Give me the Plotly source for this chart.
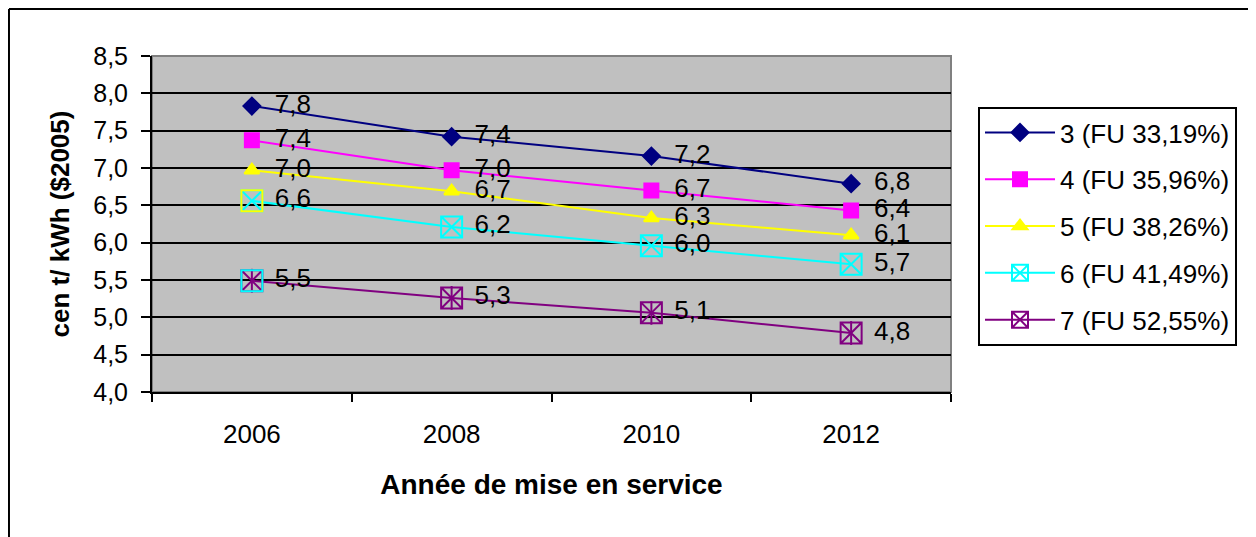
import plotly.graph_objects as go

years = ["2006", "2008", "2010", "2012"]
names = ["3 (FU 33,19%)", "4 (FU 35,96%)", "5 (FU 38,26%)", "6 (FU 41,49%)", "7 (FU 52,55%)"]
s3 = [7.83, 7.42, 7.16, 6.79]
s4 = [7.37, 6.97, 6.70, 6.43]
s5 = [6.97, 6.69, 6.33, 6.10]
s6 = [6.56, 6.21, 5.96, 5.71]
s7 = [5.49, 5.26, 5.06, 4.79]
y_ticks = [4.0, 4.5, 5.0, 5.5, 6.0, 6.5, 7.0, 7.5, 8.0, 8.5]

series = [s3, s4, s5, s6, s7]
colors = ["#000080", "#FF00FF", "#FFFF00", "#00FFFF", "#800080"]
symbols = ["diamond", "square", "triangle-up", "square-x-open", "square-x-open"]
msizes = [13, 14, 13, 21, 21]

FONT = "Liberation Sans, Arial, sans-serif"

fig = go.Figure()

for i, (vals, col, sym, ms, nm) in enumerate(zip(series, colors, symbols, msizes, names)):
    fig.add_trace(go.Scatter(
        x=years, y=vals, name=nm, mode="lines+markers",
        line=dict(color=col, width=2),
        marker=dict(symbol=sym, size=ms, color=col, line=dict(color=col, width=2)),
        legendgroup="g%d" % i, cliponaxis=False,
    ))

# asterisk completion for series 7 (vertical stroke)
fig.add_trace(go.Scatter(
    x=years, y=s7, mode="markers", showlegend=False,
    marker=dict(symbol="line-ns-open", size=17, color=colors[4], line=dict(color=colors[4], width=2)),
    cliponaxis=False, hoverinfo="skip",
))
# first-point border quirks
fig.add_trace(go.Scatter(
    x=years[:1], y=s6[:1], mode="markers", showlegend=False,
    marker=dict(symbol="square-open", size=21, color=colors[2], line=dict(color=colors[2], width=2)),
    cliponaxis=False, hoverinfo="skip",
))
fig.add_trace(go.Scatter(
    x=years[:1], y=s7[:1], mode="markers", showlegend=False,
    marker=dict(symbol="square-open", size=21, color=colors[3], line=dict(color=colors[3], width=2)),
    cliponaxis=False, hoverinfo="skip",
))

# data labels
for vals in series:
    fig.add_trace(go.Scatter(
        x=years, y=vals, mode="markers+text", showlegend=False,
        marker=dict(size=35, opacity=0),
        texttemplate="%{y:.1f}", textposition="middle right",
        textfont=dict(family=FONT, size=26, color="black"),
        cliponaxis=False, hoverinfo="skip",
    ))

fig.update_layout(
    width=1248, height=529,
    margin=dict(l=144, r=305, t=48, b=145),
    paper_bgcolor="white", plot_bgcolor="#C0C0C0",
    separators=", ",
    font=dict(family=FONT, size=26, color="black"),
    showlegend=True,
    legend=dict(
        x=1.0338, y=0.848, xanchor="left", yanchor="top",
        bordercolor="black", borderwidth=2, bgcolor="white",
        font=dict(family=FONT, size=26, color="black"),
        tracegroupgap=10, itemwidth=70,
    ),
    xaxis=dict(
        type="category", categoryorder="array", categoryarray=years,
        range=[-0.5, 3.5], tickson="boundaries",
        ticks="outside", ticklen=8, tickwidth=2, tickcolor="black",
        showline=True, linecolor="black", linewidth=2,
        showgrid=False, zeroline=False,
        tickfont=dict(family=FONT, size=26),
        ticklabelstandoff=18,
        title=dict(text="<b>Année de mise en service</b>", font=dict(family=FONT, size=28), standoff=26),
    ),
    yaxis=dict(
        range=[4, 8.5], tickvals=y_ticks, tickformat=".1f",
        ticks="outside", ticklen=9, tickwidth=2, tickcolor="black",
        showline=True, linecolor="black", linewidth=2,
        showgrid=True, gridcolor="black", gridwidth=1.5, zeroline=False,
        tickfont=dict(family=FONT, size=25),
        ticklabelstandoff=8,
        title=dict(text="<b>cen t/ kWh ($2005)</b>", font=dict(family=FONT, size=26), standoff=16),
    ),
    shapes=[
        dict(type="rect", xref="paper", yref="paper", x0=0, x1=1, y0=0, y1=1,
             line=dict(color="#808080", width=2), fillcolor="rgba(0,0,0,0)", layer="below"),
        dict(type="line", xref="paper", yref="paper", x0=-0.1790, x1=-0.1790, y0=1.1399, y1=-1,
             line=dict(color="black", width=2)),
        dict(type="line", xref="paper", yref="paper", x0=-0.1790, x1=1.6, y0=1.1399, y1=1.1399,
             line=dict(color="black", width=2)),
    ],
)

fig.write_html("out.html")
